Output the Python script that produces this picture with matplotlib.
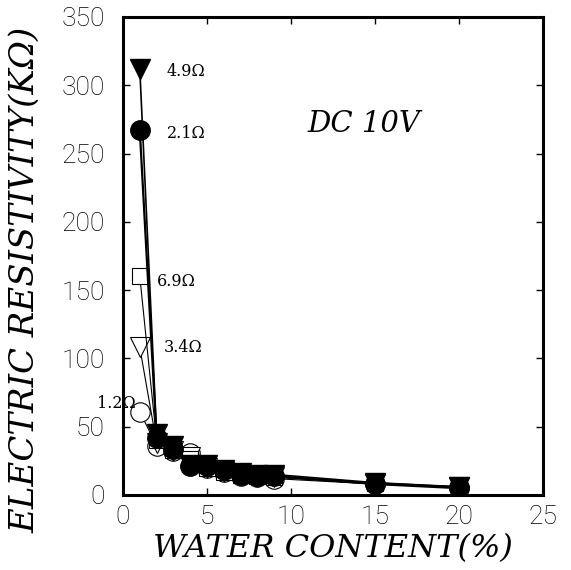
import matplotlib.pyplot as plt

water = [1, 2, 3, 4, 5, 6, 7, 8, 9, 15, 20]

# resistivity (kOhm) per electrode spacing
r_49 = [312, 45, 36, 22, 22, 18, 16, 15, 15, 9, 6]
r_21 = [267, 42, 34, 21, 21, 18, 15, 14, 14, 8, 5]
r_69 = [160, 40, 33, 26, 20, 17, 15, 14, 13, 9, 6]
r_34 = [108, 38, 32, 28, 20, 17, 15, 13, 13, 8, 6]
r_12 = [61, 36, 32, 31, 20, 17, 14, 13, 12, 8, 6]

labels = ["4.9\u03a9", "2.1\u03a9", "6.9\u03a9", "3.4\u03a9", "1.2\u03a9"]
label_pos = [(2.6, 310), (2.6, 265), (2.0, 156), (2.4, 108), (-1.55, 67)]

serif = "DejaVu Serif"
tickfont = "Roboto"


def main():
    fig = plt.figure(figsize=(5.71, 5.70), dpi=100)
    ax = fig.add_axes([0.2154, 0.1316, 0.7356, 0.8386])

    # open markers first, filled ones drawn on top
    ax.plot(water, r_12, color="black", lw=0.8, marker="o", ms=14,
            mfc="white", mec="black", mew=0.8)
    ax.plot(water, r_34, color="black", lw=0.8, marker="v", ms=14,
            mfc="white", mec="black", mew=0.8)
    ax.plot(water, r_69, color="black", lw=0.8, marker="s", ms=12,
            mfc="white", mec="black", mew=0.8)
    ax.plot(water, r_21, color="black", lw=1.6, marker="o", ms=14,
            mfc="black", mec="black")
    ax.plot(water, r_49, color="black", lw=1.2, marker="v", ms=14,
            mfc="black", mec="black")

    for text, (x, y) in zip(labels, label_pos):
        ax.text(x, y, text, fontsize=11.5, family=serif, va="center",
                ha="left", clip_on=False)

    ax.text(11.0, 272, "DC 10V", fontsize=21, family=serif,
            style="italic", va="center", ha="left")

    ax.set_xlim(0, 25)
    ax.set_ylim(0, 350)
    ax.set_xticks([0, 5, 10, 15, 20, 25])
    ax.set_yticks(range(0, 351, 50))

    for s in ax.spines.values():
        s.set_linewidth(2.2)
    ax.tick_params(direction="in", length=5, width=1, top=True, right=True,
                   labelsize=19)
    ax.tick_params(axis="y", pad=13)
    ax.tick_params(axis="x", pad=7)
    for lbl in ax.get_xticklabels() + ax.get_yticklabels():
        lbl.set_family(tickfont)
        lbl.set_fontweight("light")

    ax.set_xlabel("WATER CONTENT(%)", fontsize=23, family=serif,
                  style="italic", labelpad=3)
    ax.set_ylabel("ELECTRIC RESISTIVITY(K\u03a9)", fontsize=24.5, family=serif,
                  style="italic")
    ax.yaxis.set_label_coords(-0.195, 0.45)

    fig.savefig("out.png", dpi=100)


if __name__ == "__main__":
    main()
